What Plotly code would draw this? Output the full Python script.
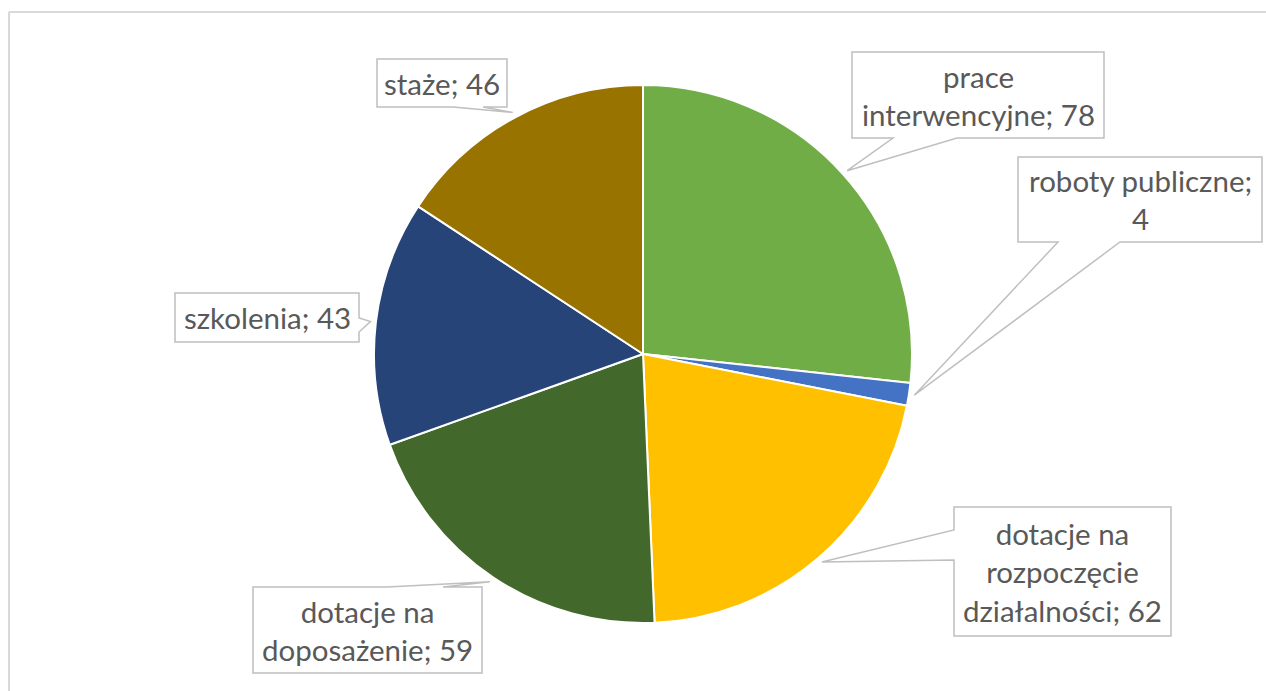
import math
import textwrap
import plotly.graph_objects as go

# data
categories = ["prace interwencyjne", "roboty publiczne",
              "dotacje na rozpoczęcie działalności", "dotacje na doposażenie",
              "szkolenia", "staże"]
values = [78, 4, 62, 59, 43, 46]
colors = ["#70AD47", "#4472C4", "#FFC000", "#43682B", "#264478", "#997300"]

W, H = 1266, 691
CX, CY, R = 643, 354, 269  # pie centre / radius in pixels

# callout boxes in pixels: (x0, y0, x1, y1), wedge side, wedge base span
boxes = [
    ((852, 52, 1104, 138), "bottom", (893, 957)),
    ((1018, 157, 1262, 242), "bottom", (1058, 1120)),
    ((954, 507, 1171, 636), "left", (530, 560)),
    ((253, 587, 482, 673), "top", (387, 443)),
    ((175, 293, 359, 342), "right", (318, 332)),
    ((377, 59, 507, 107), "bottom", (453, 483)),
]

fig = go.Figure()

fig.add_trace(go.Pie(
    labels=categories,
    values=values,
    sort=False,
    direction="clockwise",
    rotation=0,
    marker=dict(colors=colors, line=dict(color="white", width=2)),
    textinfo="none",
    hoverinfo="label+value",
    showlegend=False,
    domain=dict(x=[(CX - R) / W, (CX + R) / W],
                y=[(H - CY - R) / H, (H - CY + R) / H]),
))

# chart frame: only the top and left edges fall inside the window
frame = dict(color="#D9D9D9", width=2)
shapes = [
    dict(type="line", xref="x", yref="y", x0=9, y0=12, x1=W, y1=12, line=frame, layer="below"),
    dict(type="line", xref="x", yref="y", x0=9, y0=12, x1=9, y1=H, line=frame, layer="below"),
]
annotations = []

total = sum(values)
cum = 0
for cat, val, (box, side, base) in zip(categories, values, boxes):
    mid = (cum + val / 2) / total * 2 * math.pi
    cum += val
    tx = CX + R * 1.02 * math.sin(mid)
    ty = CY - R * 1.02 * math.cos(mid)
    x0, y0, x1, y1 = box
    b1, b2 = base
    pts = [(x0, y0)]
    if side == "top":
        pts += [(b1, y0), (tx, ty), (b2, y0)]
    pts.append((x1, y0))
    if side == "right":
        pts += [(x1, b1), (tx, ty), (x1, b2)]
    pts.append((x1, y1))
    if side == "bottom":
        pts += [(b2, y1), (tx, ty), (b1, y1)]
    pts.append((x0, y1))
    if side == "left":
        pts += [(x0, b2), (tx, ty), (x0, b1)]
    path = "M " + " L ".join(f"{px:.1f},{py:.1f}" for px, py in pts) + " Z"
    shapes.append(dict(type="path", xref="x", yref="y", path=path,
                       fillcolor="white", line=dict(color="#BFBFBF", width=1.5),
                       layer="above"))
    text = "<br>".join(textwrap.wrap(f"{cat}; {val}", width=17))
    annotations.append(dict(
        x=(x0 + x1) / 2, y=(y0 + y1) / 2, xref="x", yref="y",
        text=text, showarrow=False, xanchor="center", yanchor="middle",
        align="center", font=dict(family="Lato", size=29.5, color="#595959"),
    ))

fig.update_layout(
    width=W, height=H,
    margin=dict(l=0, r=0, t=0, b=0),
    paper_bgcolor="white", plot_bgcolor="rgba(0,0,0,0)",
    xaxis=dict(range=[0, W], visible=False, fixedrange=True),
    yaxis=dict(range=[H, 0], visible=False, fixedrange=True),
    shapes=shapes,
    annotations=annotations,
)

# drop the default page margin so the figure fills the window exactly
fig.write_html("out.html", config={"displayModeBar": False}, post_script=(
    "document.body.style.margin='0';"
    "document.documentElement.style.overflow='hidden';"))
